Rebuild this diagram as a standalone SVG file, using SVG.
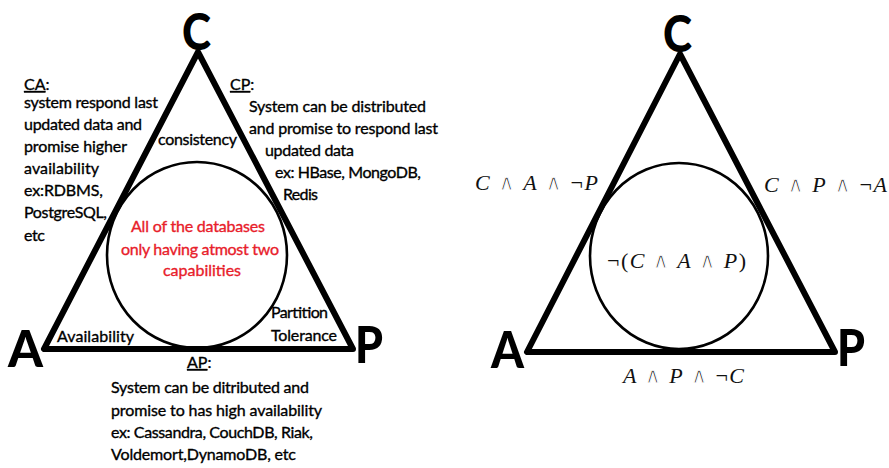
<svg xmlns="http://www.w3.org/2000/svg" width="889" height="468" viewBox="0 0 889 468">
<style>
.tri{fill:none;stroke:#000;stroke-width:6;stroke-linejoin:round}
.circ{fill:none;stroke:#000;stroke-width:2.6}
.big{font-family:Lato,"Open Sans",sans-serif;font-weight:900;font-size:52px;fill:#000}
.t{font-family:Lato,"Open Sans",sans-serif;font-size:16px;fill:#000;stroke:#000;stroke-width:0.35}
.red{font-family:Lato,"Open Sans",sans-serif;font-size:16px;fill:#e8202a;stroke:#e8202a;stroke-width:0.35}
.m{font-family:"Liberation Serif",serif;font-size:22px;fill:#111}
.m .i{font-style:italic}
.m .w{font-family:"DejaVu Sans",sans-serif;font-size:22px;stroke:#fff;stroke-width:1.1}
</style>
<rect width="889" height="468" fill="#fff"/>
<g id="left-diagram">
  <g id="left-triangle"><polygon class="tri" points="198,52 44,349 353,349"/></g>
  <g id="left-circle"><ellipse class="circ" cx="197" cy="255" rx="90" ry="93"/></g>
  <g id="left-C"><text class="big" x="182" y="50" textLength="29" lengthAdjust="spacingAndGlyphs">C</text></g>
  <g id="left-A"><text class="big" x="8" y="367" textLength="35" lengthAdjust="spacingAndGlyphs">A</text></g>
  <g id="left-P"><text class="big" x="355" y="363" textLength="28" lengthAdjust="spacingAndGlyphs">P</text></g>
  <g id="CA">
    <text class="t" x="24" y="90"><tspan text-decoration="underline">CA</tspan>:</text>
    <text class="t" x="24" y="108" textLength="134">system respond last</text>
    <text class="t" x="24" y="130" textLength="118">updated data and</text>
    <text class="t" x="24" y="152" textLength="103">promise higher</text>
    <text class="t" x="24" y="174" textLength="75">availability</text>
    <text class="t" x="24" y="196" textLength="79">ex:RDBMS,</text>
    <text class="t" x="24" y="218" textLength="83">PostgreSQL,</text>
    <text class="t" x="24" y="241" textLength="21">etc</text>
  </g>
  <g id="CP">
    <text class="t" x="230" y="90"><tspan text-decoration="underline">CP</tspan>:</text>
    <text class="t" x="249" y="112" textLength="177">System can be distributed</text>
    <text class="t" x="249" y="134" textLength="189">and promise to respond last</text>
    <text class="t" x="265" y="156" textLength="89">updated data</text>
    <text class="t" x="275" y="178" textLength="146">ex: HBase, MongoDB,</text>
    <text class="t" x="283" y="200" textLength="35">Redis</text>
  </g>
  <g id="consistency"><text class="t" x="158" y="145" textLength="79">consistency</text></g>
  <g id="center-note">
    <text class="red" x="131" y="232" textLength="134">All of the databases</text>
    <text class="red" x="121" y="255" textLength="158">only having atmost two</text>
    <text class="red" x="163" y="276" textLength="78">capabilities</text>
  </g>
  <g id="availability"><text class="t" x="57" y="342" textLength="77">Availability</text></g>
  <g id="partition">
    <text class="t" x="271" y="318" textLength="57">Partition</text>
    <text class="t" x="271" y="341" textLength="66">Tolerance</text>
  </g>
  <g id="AP">
    <text class="t" x="187" y="368"><tspan text-decoration="underline">AP</tspan>:</text>
    <text class="t" x="111" y="393" textLength="198">System can be ditributed and</text>
    <text class="t" x="111" y="416" textLength="211">promise to has high availability</text>
    <text class="t" x="111" y="438" textLength="202">ex: Cassandra, CouchDB, Riak,</text>
    <text class="t" x="111" y="460" textLength="185">Voldemort,DynamoDB, etc</text>
  </g>
</g>
<g id="right-diagram">
  <g id="right-triangle"><polygon class="tri" points="680,54 527,352 835,352"/></g>
  <g id="right-circle"><ellipse class="circ" cx="679" cy="256" rx="89" ry="93"/></g>
  <g id="right-C"><text class="big" x="663" y="52" textLength="29" lengthAdjust="spacingAndGlyphs">C</text></g>
  <g id="right-A"><text class="big" x="491" y="368" textLength="33" lengthAdjust="spacingAndGlyphs">A</text></g>
  <g id="right-P"><text class="big" x="837" y="366" textLength="28" lengthAdjust="spacingAndGlyphs">P</text></g>
  <g id="CAnotP"><text class="m" x="475" y="190" textLength="123"><tspan class="i">C</tspan> <tspan class="w">∧</tspan> <tspan class="i">A</tspan> <tspan class="w">∧</tspan> ¬<tspan class="i">P</tspan></text></g>
  <g id="CPnotA"><text class="m" x="764" y="192" textLength="123"><tspan class="i">C</tspan> <tspan class="w">∧</tspan> <tspan class="i">P</tspan> <tspan class="w">∧</tspan> ¬<tspan class="i">A</tspan></text></g>
  <g id="notCAP"><text class="m" x="607" y="268" textLength="139">¬(<tspan class="i">C</tspan> <tspan class="w">∧</tspan> <tspan class="i">A</tspan> <tspan class="w">∧</tspan> <tspan class="i">P</tspan>)</text></g>
  <g id="APnotC"><text class="m" x="623" y="383" textLength="121"><tspan class="i">A</tspan> <tspan class="w">∧</tspan> <tspan class="i">P</tspan> <tspan class="w">∧</tspan> ¬<tspan class="i">C</tspan></text></g>
</g>
</svg>
